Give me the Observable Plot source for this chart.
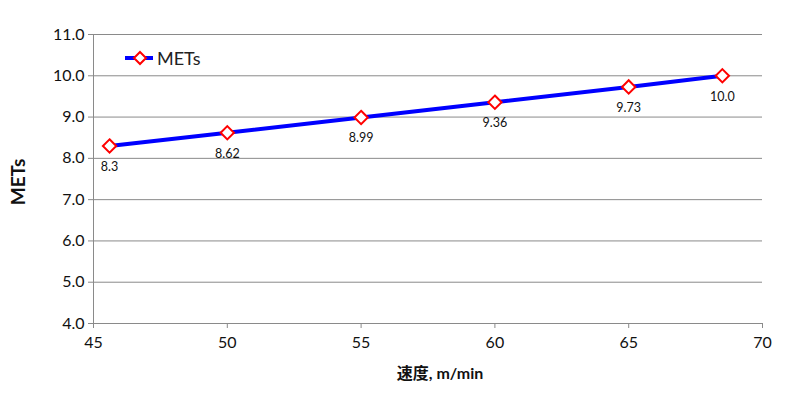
<!DOCTYPE html>
<html><head><meta charset="utf-8">
<script src="https://cdn.jsdelivr.net/npm/d3@7"></script>
<script src="https://cdn.jsdelivr.net/npm/@observablehq/plot@0.6"></script>
<style>
body{margin:0;background:#fff;}
#wrap{position:relative;width:800px;height:396px;font-family:Lato,"Noto Sans CJK JP",sans-serif;}
#legend{position:absolute;left:122px;top:46px;display:flex;align-items:center;font-size:18px;color:#222;}
</style>
</head><body>
<div id="wrap"><div id="chart"></div>
<div id="legend"><svg width="34" height="24"><line x1="3" y1="12" x2="31" y2="12" stroke="#0000ff" stroke-width="4"/><path d="M18,6 L24,12 L18,18 L12,12 Z" fill="#fff" stroke="#ff0000" stroke-width="2"/></svg><span style="margin-left:1px">METs</span></div>
</div>
<script>
const speeds = [45.6, 50, 55, 60, 65, 68.5];
const mets = [8.3, 8.62, 8.99, 9.36, 9.73, 10.0];
const labels = ["8.3", "8.62", "8.99", "9.36", "9.73", "10.0"];
const yTicks = [4, 5, 6, 7, 8, 9, 10, 11];
const xTicks = [45, 50, 55, 60, 65, 70];
const xTitle = "速度, m/min";
const yTitle = "METs";

const data = speeds.map((s, i) => ({speed: s, mets: mets[i], label: labels[i]}));
const gray = "#8a8a8a";

const chart = Plot.plot({
  width: 800, height: 396,
  marginLeft: 93, marginRight: 38, marginTop: 34, marginBottom: 73,
  style: {fontFamily: 'Lato,"Noto Sans CJK JP",sans-serif', background: "#fff", color: "#111"},
  x: {domain: [45, 70]},
  y: {domain: [4, 11]},
  marks: [
    Plot.ruleY(yTicks, {stroke: gray, strokeWidth: 1}),
    Plot.ruleX([45], {stroke: gray, strokeWidth: 1}),
    Plot.axisY({ticks: yTicks, tickSize: 5, tickFormat: d => d.toFixed(1), fontSize: 16, stroke: gray, tickPadding: 4, label: null}),
    Plot.axisX({ticks: xTicks, tickSize: 5, fontSize: 16, stroke: gray, tickPadding: 8, label: null}),
    Plot.text([xTitle], {frameAnchor: "bottom", dx: 12, dy: 55, fontSize: 16, fontWeight: "bold", fill: "#111"}),
    Plot.text([yTitle], {frameAnchor: "left", textAnchor: "middle", dx: -75, dy: 3, rotate: -90, fontSize: 19, fontWeight: "bold", fill: "#111"}),
    Plot.line(data, {x: "speed", y: "mets", stroke: "#0000ff", strokeWidth: 4}),
    Plot.dot(data, {x: "speed", y: "mets", symbol: "diamond2", r: 6, fill: "#fff", stroke: "#ff0000", strokeWidth: 2}),
    Plot.text(data, {x: "speed", y: "mets", text: "label", dy: 21, fontSize: 12.5, fill: "#111"})
  ]
});
document.getElementById("chart").appendChild(chart);
</script>
</body></html>
